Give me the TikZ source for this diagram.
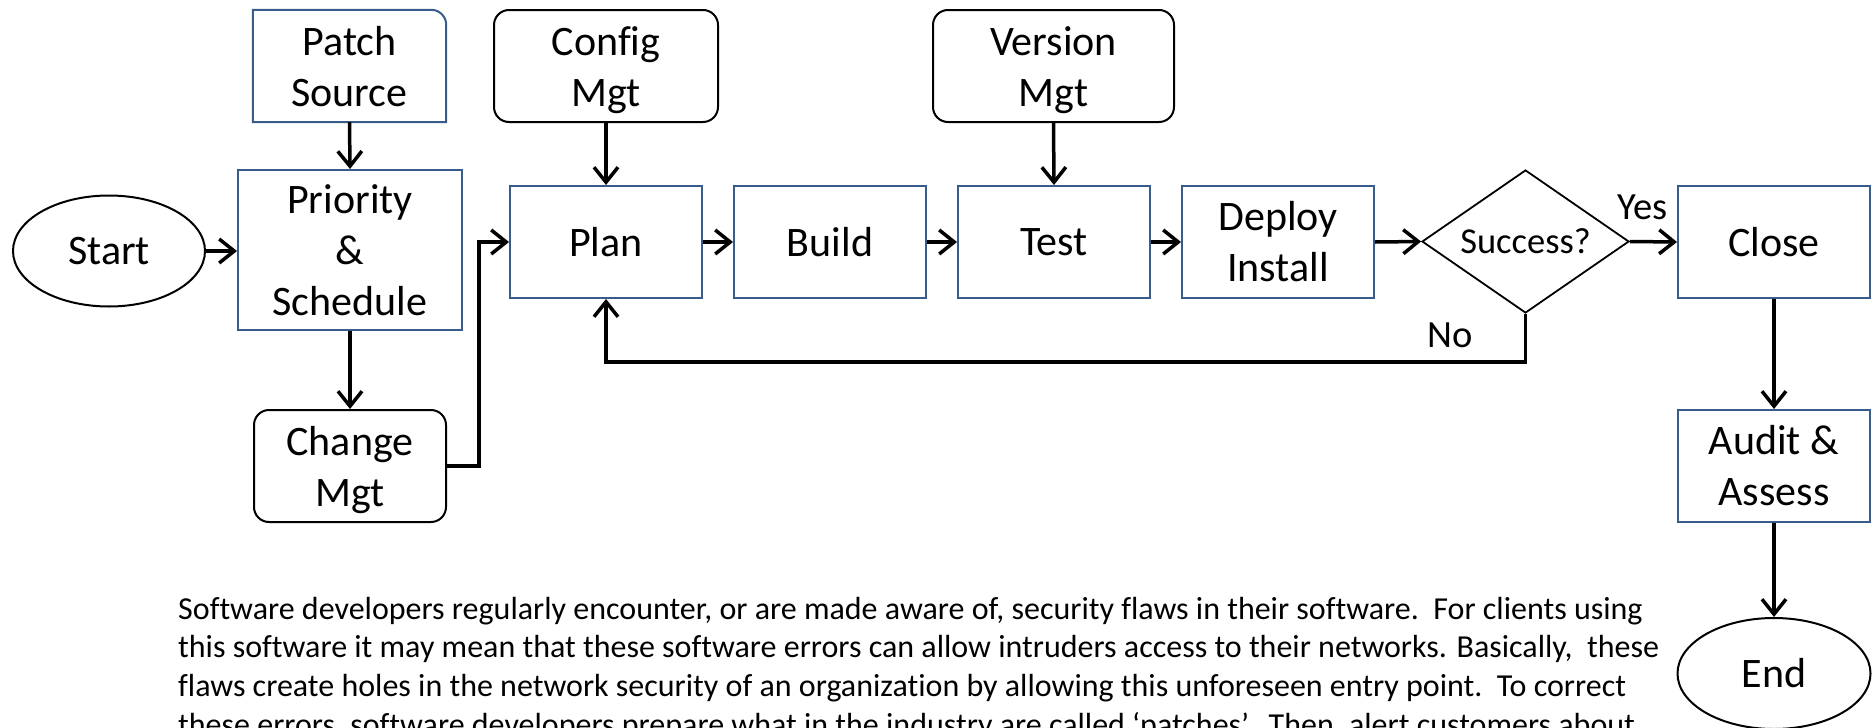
\documentclass[tikz,border=0pt]{standalone}
\usepackage{fontspec}
\setmainfont[Ligatures=CommonOff]{Carlito}
\usetikzlibrary{arrows.meta,shapes.geometric}
\definecolor{boxblue}{RGB}{56,93,138}
\newcommand\mynodefont{\fontsize{42}{51}\selectfont}
\newcommand\mylabelfont{\fontsize{38.5}{46}\selectfont}
\newcommand\mydiafont{\fontsize{36.5}{44}\selectfont}
\newcommand\myparafont{\fontsize{32}{38.7}\selectfont}
\newcommand\lowtwo[2]{\raisebox{-40pt}[0pt][0pt]{\begin{tabular}[b]{@{}c@{}}#1\\#2\end{tabular}}}
\begin{document}
\begin{tikzpicture}[x=1pt,y=1pt,
  base/.style={inner sep=0pt, align=center, font=\mynodefont},
  bluebox/.style={base, draw=boxblue, line width=2pt, minimum width=192pt, minimum height=112pt},
  roundbox/.style={base, draw=black, line width=2pt, rounded corners=15pt, minimum height=112pt},
  oval/.style={base, ellipse, draw=black, line width=2pt, minimum width=192pt, minimum height=111pt},
  decision/.style={diamond, draw=black, line width=1.8pt, inner sep=0pt, minimum width=207pt, minimum height=143pt, aspect=1.45, font=\mydiafont},
  conn/.style={line width=3.5pt, -{Straight Barb[length=15pt,width=24pt]}},
  lbl/.style={inner sep=0pt, font=\mylabelfont},
  para/.style={inner sep=0pt, anchor=base west, font=\myparafont}
]
\useasboundingbox (0,0) rectangle (1874,-728);

% nodes
\node[oval] (start) at (109,-251) {Start};
\node[base, minimum width=193pt, minimum height=112pt] (patch) at (349.5,-66) {\lowtwo{Patch}{Source}};
\draw[boxblue, line width=2pt] (patch.south west) -- (patch.north west) -- ([xshift=-15pt]patch.north east) arc[start angle=90, end angle=0, radius=15pt] -- (patch.south east) -- cycle;
\node[bluebox, minimum width=224pt, minimum height=160pt] (prio) at (350,-250) {Priority\\\&\\Schedule};
\node[roundbox, minimum width=192pt] (change) at (350,-466) {\lowtwo{Change}{Mgt}};
\node[roundbox, minimum width=224pt] (config) at (606,-66) {\lowtwo{Config}{Mgt}};
\node[bluebox] (plan) at (606,-242) {Plan};
\node[bluebox] (build) at (830,-242) {Build};
\node[bluebox] (test) at (1054,-242) {Test};
\node[roundbox, minimum width=241pt] (version) at (1053.5,-66) {\lowtwo{Version}{Mgt}};
\node[bluebox] (deploy) at (1278,-242) {Deploy\\Install};
\node[decision] (dia) at (1525.5,-241.5) {Success?};
\node[bluebox] (close) at (1774,-242) {Close};
\node[bluebox] (audit) at (1774,-466) {Audit \&\\Assess};
\node[oval, minimum width=193pt] (end) at (1774,-673.5) {End};

% labels
\node[lbl, anchor=base west] (yes) at (1617,-219) {Yes};
\node[lbl, anchor=base west] (no) at (1427,-347) {No};

% connectors
\draw[conn] (start.east) -- (prio.west |- start.east);
\draw[conn] (patch.south) -- (prio.north);
\draw[conn] (prio.south) -- (change.north);
\draw[conn] (change.east) -- ++(32,0) |- (plan.west);
\draw[conn] (config.south) -- (plan.north);
\draw[conn] (plan.east) -- (build.west);
\draw[conn] (build.east) -- (test.west);
\draw[conn] (version.south) -- (test.north);
\draw[conn] (test.east) -- (deploy.west);
\draw[conn] (deploy.east) -- (dia.west);
\draw[conn] (dia.east) -- (close.west);
\draw[conn] (dia.south) -- ++(0,-48) -| (plan.south);
\draw[conn] (close.south) -- (audit.north);
\draw[conn] (audit.south) -- (end.north);

% paragraph
\node[para] (p1) at (178,-619) {Software developers regularly encounter, or are made aware of, security flaws in their software.\ \ For clients using};
\node[para] (p2) at (178,-657.7) {this software it may mean that these software errors can allow intruders access to their networks. Basically,\ \ these};
\node[para] (p3) at (178,-696.4) {flaws create holes in the network security of an organization by allowing this unforeseen entry point.\ \ To correct};
\node[para] (p4) at (178,-735.1) {these errors, software developers prepare what in the industry are called ‘patches’.\ \ Then, alert customers about};
\end{tikzpicture}
\end{document}
